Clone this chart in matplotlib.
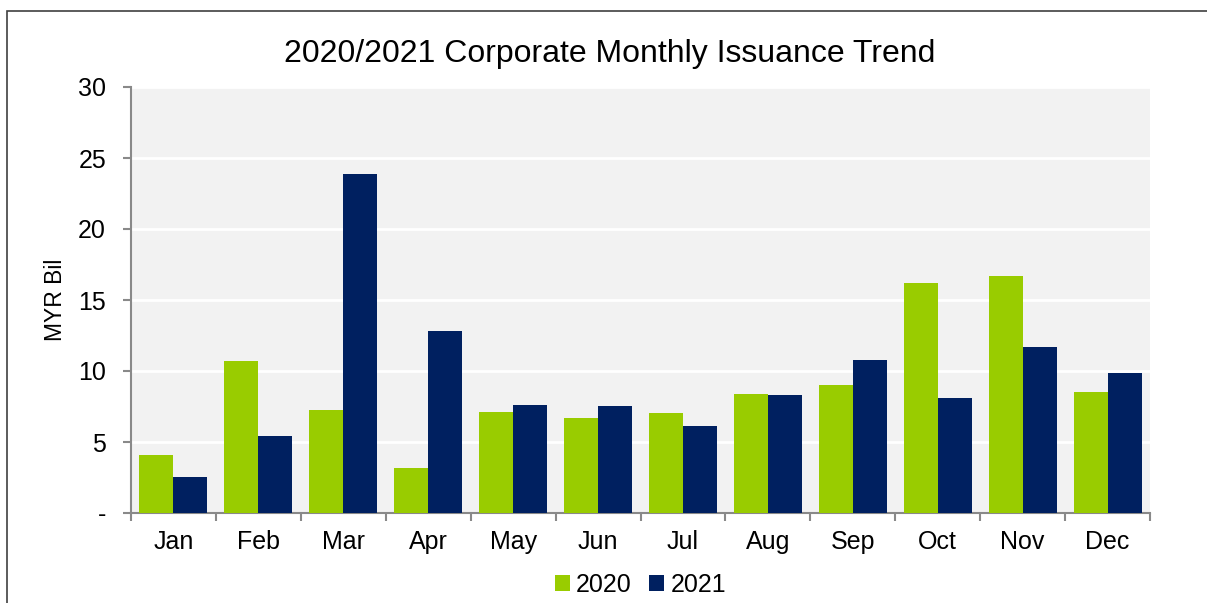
import numpy as np
import matplotlib.pyplot as plt
from matplotlib.patches import Rectangle

months = ["Jan", "Feb", "Mar", "Apr", "May", "Jun", "Jul", "Aug", "Sep", "Oct", "Nov", "Dec"]
issu_2020 = [4.1, 10.7, 7.25, 3.15, 7.1, 6.7, 7.05, 8.4, 9.0, 16.2, 16.7, 8.5]
issu_2021 = [2.55, 5.4, 23.85, 12.8, 7.6, 7.55, 6.1, 8.3, 10.8, 8.1, 11.7, 9.85]
yticks = [0, 5, 10, 15, 20, 25, 30]
ytick_labels = ["-", "5", "10", "15", "20", "25", "30"]

plt.rcParams['font.family'] = ['Liberation Sans', 'DejaVu Sans']

fig = plt.figure(figsize=(12.07, 6.03), dpi=100)
ax = fig.add_axes([131 / 1207, 1 - 513 / 603, 1019 / 1207, 426 / 603])

x = np.arange(len(months))
w = 0.4
ax.bar(x - w / 2, issu_2020, width=w, color="#99CC00", label="2020", zorder=3)
ax.bar(x + w / 2, issu_2021, width=w, color="#002060", label="2021", zorder=3)

ax.set_facecolor("#F2F2F2")
ax.set_xlim(-0.5, len(months) - 0.5)
ax.set_ylim(0, 30)
ax.set_yticks(yticks)
ax.set_yticklabels(ytick_labels, fontsize=18)
ax.set_xticks(np.arange(len(months) + 1) - 0.5)
ax.set_xticklabels([])
ax.set_xticks(x, minor=True)
ax.set_xticklabels(months, minor=True, fontsize=18)
ax.tick_params(axis="x", which="minor", length=0, pad=12.5)
ax.tick_params(axis="x", which="major", length=6, width=1.5, color="#898989")
ax.tick_params(axis="y", length=6, width=1.5, color="#898989", pad=12)
ax.grid(axis="y", color="white", linewidth=2, zorder=1)

for s in ["top", "right"]:
    ax.spines[s].set_visible(False)
for s in ["left", "bottom"]:
    ax.spines[s].set_color("#898989")
    ax.spines[s].set_linewidth(1.5)

ax.set_ylabel("MYR Bil", fontsize=16.5, labelpad=8)
fig.text(0.505, 1 - 54 / 603, "2020/2021 Corporate Monthly Issuance Trend",
         ha="center", va="center", fontsize=23)

ax.legend(loc="upper center", bbox_to_anchor=(0.5, -0.1), ncol=2, frameon=False,
          fontsize=18, handlelength=0.6, handleheight=0.6, handletextpad=0.25,
          columnspacing=0.7, borderpad=0.2)

# border around chart
fig.patches.append(Rectangle((7 / 1207, -0.01), 1.0, 1 - 11 / 603 + 0.01,
                             transform=fig.transFigure, fill=False,
                             edgecolor="#404040", linewidth=1.2))

fig.savefig("out.png", dpi=100)
